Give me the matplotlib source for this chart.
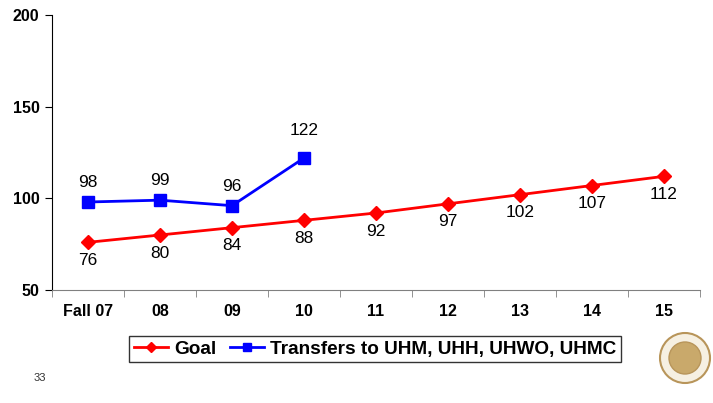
import matplotlib
matplotlib.use('Agg')
from matplotlib import pyplot as plt
from matplotlib.patches import Ellipse

categories = ["Fall 07", "08", "09", "10", "11", "12", "13", "14", "15"]
goal = [76, 80, 84, 88, 92, 97, 102, 107, 112]
transfers = [98, 99, 96, 122]
y_ticks = [50, 100, 150, 200]

plt.rcParams['font.family'] = ['Liberation Sans', 'DejaVu Sans']

W, H = 713, 403
fig = plt.figure(figsize=(W/100, H/100), dpi=100)
ax = fig.add_axes([52/W, 1-290/H, 648/W, 275/H])

x_goal = list(range(len(goal)))
x_tr = list(range(len(transfers)))
ax.plot(x_goal, goal, color='#ff0000', lw=2, marker='D', ms=7, label='Goal')
ax.plot(x_tr, transfers, color='#0000ff', lw=2, marker='s', ms=8,
        label='Transfers to UHM, UHH, UHWO, UHMC')

for x, v in zip(x_goal, goal):
    ax.annotate(str(v), (x, v), xytext=(0, -13), textcoords='offset points',
                ha='center', va='center', fontsize=12.5)
for x, v in zip(x_tr, transfers):
    off = 20 if v == max(transfers) else 14
    ax.annotate(str(v), (x, v), xytext=(0, off), textcoords='offset points',
                ha='center', va='center', fontsize=12.5)

ax.set_xlim(-0.5, len(categories) - 0.5)
ax.set_ylim(50, 200)
ax.set_yticks(y_ticks)
ax.set_yticklabels([str(t) for t in y_ticks], fontsize=11.5, fontweight='bold')
ax.set_xticks(x_goal)
ax.set_xticklabels(categories, fontsize=11.5, fontweight='bold')
ax.set_xticks([i - 0.5 for i in range(len(categories) + 1)], minor=True)
ax.tick_params(axis='x', which='major', length=0, pad=10)
ax.tick_params(axis='x', which='minor', length=5, color='#808080')
ax.tick_params(axis='y', length=5, pad=4)
ax.spines['top'].set_visible(False)
ax.spines['right'].set_visible(False)
ax.spines['bottom'].set_color('#808080')

leg = fig.legend(loc='center', bbox_to_anchor=(375/W, 1-349/H), ncol=2,
                 frameon=True, fancybox=False, edgecolor='black',
                 prop={'weight': 'bold', 'size': 13.7}, handlelength=1.8,
                 handletextpad=0.3, columnspacing=0.7, borderpad=0.25,
                 markerscale=0.7)
leg.get_frame().set_linewidth(1)

fig.text(40/W, 1-378/H, "33", fontsize=8, color='#333333', ha='center', va='center')

# rough stand-in for the seal at the bottom right
cx, cy = 685/W, 1-358/H
fig.patches.append(Ellipse((cx, cy), 50/W, 50/H, transform=fig.transFigure,
                           facecolor='#f6f0e2', edgecolor='#b8955a', lw=1.5))
fig.patches.append(Ellipse((cx, cy), 32/W, 32/H, transform=fig.transFigure,
                           facecolor='#c9a96b', edgecolor='#b8955a', lw=1))

fig.savefig('out.png', dpi=100)
